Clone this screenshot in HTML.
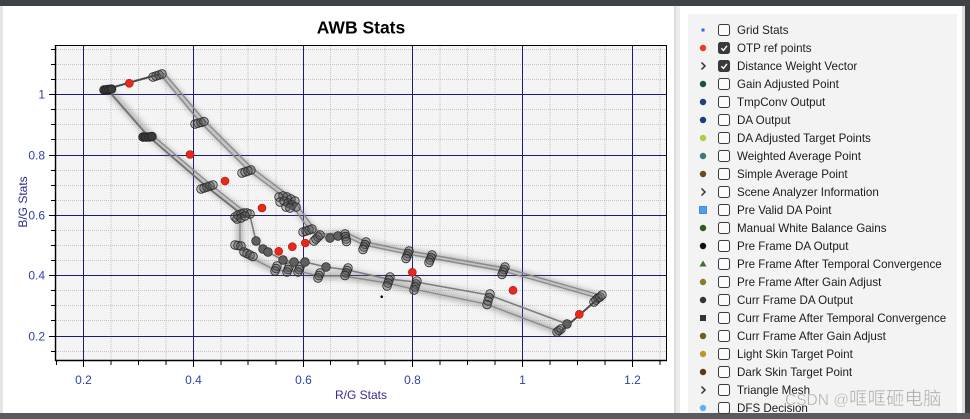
<!DOCTYPE html>
<html><head><meta charset="utf-8">
<style>
html,body{margin:0;padding:0;background:#fff;}
svg{display:block;}
.o{fill:rgba(90,90,90,.38);stroke:#2a2a2a;stroke-width:.8}
.f{fill:#606060;stroke:#303030;stroke-width:.8}
.d{fill:#3a3a3a;stroke:#1e1e1e;stroke-width:.8}
.lg{font-family:"Liberation Sans",sans-serif;font-size:11.6px;fill:#1c1c1c}
.tk{font-family:"Liberation Sans",sans-serif;font-size:12px;fill:#2f44a8}
</style></head>
<body>
<svg width="970" height="419" viewBox="0 0 970 419" xmlns="http://www.w3.org/2000/svg">
<defs>
<filter id="bl" filterUnits="userSpaceOnUse" x="0" y="0" width="970" height="419"><feGaussianBlur stdDeviation="2.6"/></filter>
<clipPath id="cp"><rect x="56" y="46" width="610" height="314"/></clipPath>
</defs>
<rect x="0" y="0" width="970" height="419" fill="#ffffff"/>
<rect x="0" y="6" width="3" height="408" fill="#e4e4e4"/>
<rect x="674" y="6" width="2" height="408" fill="#dcdcdc"/>
<rect x="676" y="6" width="4" height="408" fill="#ececec"/>
<rect x="688" y="14" width="269" height="400" fill="#f3f3f3"/>
<rect x="962" y="6" width="3" height="408" fill="#dedede"/>
<rect x="965" y="0" width="5" height="419" fill="#3c4043"/>
<rect x="0" y="0" width="970" height="6" fill="#3f4346"/>
<rect x="0" y="413" width="970" height="6" fill="#575b5f"/>

<text x="361" y="33.5" text-anchor="middle" font-family="Liberation Sans, sans-serif" font-weight="bold" font-size="17.5" fill="#000">AWB Stats</text>

<rect x="55.5" y="45.5" width="611" height="315" fill="#f4f4f4"/>
<g stroke="#c4c4c4" stroke-width="1" stroke-dasharray="1 1" fill="none">
<path d="M56,46V360M111,46V360M138.5,46V360M166,46V360M221,46V360M248,46V360M276,46V360M330.5,46V360M358,46V360M385,46V360M440,46V360M467.5,46V360M495,46V360M550,46V360M577.5,46V360M605,46V360M660,46V360"/>
<path d="M56,49.5H666M56,64.5H666M56,79.5H666M56,109.5H666M56,124.5H666M56,139.5H666M56,170.5H666M56,185.5H666M56,200.5H666M56,230.5H666M56,245.5H666M56,260.5H666M56,290.5H666M56,305.5H666M56,320.5H666M56,351.5H666"/>
</g>
<g stroke="#1b1b78" stroke-width="1" fill="none">
<path d="M83.5,46V360M193.5,46V360M303.5,46V360M412.5,46V360M522.5,46V360M632.5,46V360"/>
<path d="M56,94.5H666M56,155.5H666M56,215.5H666M56,275.5H666M56,336.5H666"/>
</g>
<rect x="55.5" y="45.5" width="611" height="315" fill="none" stroke="#000" stroke-width="1"/>
<path d="M55.5,45V361M55,360.5H667" stroke="#000" stroke-width="1.4"/>
<g stroke="#000" stroke-width="1">
<path d="M49,94.5H55M49,155.5H55M49,215.5H55M49,275.5H55M49,336.5H55"/>
<path d="M51,49.5H55M51,64.5H55M51,79.5H55M51,109.5H55M51,124.5H55M51,139.5H55M51,170.5H55M51,185.5H55M51,200.5H55M51,230.5H55M51,245.5H55M51,260.5H55M51,290.5H55M51,305.5H55M51,320.5H55M51,351.5H55"/>
<path d="M83.5,361V367M193.5,361V367M303.5,361V367M412.5,361V367M522.5,361V367M632.5,361V367"/>
<path d="M56.5,361V365M111,361V365M138.5,361V365M166,361V365M221,361V365M248,361V365M276,361V365M330.5,361V365M358,361V365M385,361V365M440,361V365M467.5,361V365M495,361V365M550,361V365M577.5,361V365M605,361V365M660,361V365"/>
</g>
<g class="tk" text-anchor="end">
<text x="45" y="98.5">1</text>
<text x="45" y="159.5">0.8</text>
<text x="45" y="219.5">0.6</text>
<text x="45" y="279.5">0.4</text>
<text x="45" y="340.5">0.2</text>
</g>
<g class="tk" text-anchor="middle">
<text x="83.5" y="384">0.2</text>
<text x="193.5" y="384">0.4</text>
<text x="303.5" y="384">0.6</text>
<text x="412.5" y="384">0.8</text>
<text x="522.5" y="384">1</text>
<text x="632.5" y="384">1.2</text>
</g>
<text x="361" y="399" text-anchor="middle" font-family="Liberation Sans, sans-serif" font-size="12" fill="#3a2c8e">R/G Stats</text>
<text transform="translate(27,202) rotate(-90)" text-anchor="middle" font-family="Liberation Sans, sans-serif" font-size="12" fill="#2c2c8c">B/G Stats</text>

<g clip-path="url(#cp)">
<g filter="url(#bl)" fill="none" stroke="#707070" stroke-opacity="0.45" stroke-width="7" stroke-linejoin="round" stroke-linecap="round">
<path d="M162,74 L202,121 L250,169 L290,199 L311,228 L320,236 L346,234 L365,243 L408,252 L431,256 L504,269 L599,297"/>
<path d="M108,89 L149,135 L208,186 L242,212"/>
<path d="M240,215 L240,245 L248,256 L275,270 L287,271 L298,271 L319,276 L343,276 L387,283 L413,289 L486,304 L560,332"/>
<path stroke-width="4" stroke-opacity="0.3" d="M250,216 L256,241 L263,249 L268,252 L283,260 L294,262 L305,262 L326,267 L348,270 L388,279 L416,282 L489,295 L567,324"/>
</g>
<g fill="none" stroke="#8a8a8a" stroke-width="1.4" stroke-linejoin="round">
<path d="M160,74 L200,122 L248,170 L288,200 L309,229 L318,237 L345,236 L364,245 L407,254 L430,258 L503,271 L598,298"/>
<path d="M164,73 L204,120 L252,168 L292,198 L313,227 L322,234 L347,233 L366,242 L409,251 L432,255 L505,268 L600,295"/>
<path stroke="#707070" stroke-width="1.8" d="M107,89 L148,136 L207,187 L240,213"/>
<path d="M151,134 L210,184 L244,211"/>
<path d="M240,215 L240,245 L248,256 L275,270 L287,271 L298,271 L319,276 L343,276 L387,283 L413,289 L486,304 L560,332"/>
<path stroke="#7c7c7c" stroke-width="1.6" d="M250,216 L256,241 L263,249 L268,252 L283,260 L294,262 L305,262 L326,267 L348,270 L388,279 L416,282 L489,295 L567,324"/>
</g>
<path d="M107,89 L160,74" stroke="#4c4c4c" stroke-width="2" fill="none"/>
<path d="M600,297 L560,332" stroke="#4c4c4c" stroke-width="2" fill="none"/>

<g>
<circle class="d" cx="104" cy="90" r="4.3"/><circle class="d" cx="106.5" cy="89.7" r="4.3"/><circle class="d" cx="109" cy="89.4" r="4.3"/><circle class="d" cx="111.5" cy="89.1" r="4.3"/>
<circle class="o" cx="153" cy="77" r="4.3"/><circle class="o" cx="156" cy="76" r="4.3"/><circle class="o" cx="159" cy="75" r="4.3"/><circle class="o" cx="162" cy="74" r="4.3"/>
<circle class="o" cx="195" cy="124" r="4.3"/><circle class="o" cx="198" cy="123.2" r="4.3"/><circle class="o" cx="201" cy="122.4" r="4.3"/><circle class="o" cx="204" cy="121.6" r="4.3"/>
<circle class="o" cx="242" cy="173" r="4.3"/><circle class="o" cx="245" cy="172" r="4.3"/><circle class="o" cx="248" cy="171" r="4.3"/><circle class="o" cx="251" cy="170" r="4.3"/>
<circle class="o" cx="279" cy="197" r="4.3"/><circle class="o" cx="283" cy="196" r="4.3"/><circle class="o" cx="287" cy="197" r="4.3"/><circle class="o" cx="291" cy="199" r="4.3"/><circle class="o" cx="295" cy="201" r="4.3"/><circle class="o" cx="280" cy="202" r="4.3"/><circle class="o" cx="284" cy="201" r="4.3"/><circle class="o" cx="288" cy="203" r="4.3"/><circle class="o" cx="292" cy="205" r="4.3"/><circle class="o" cx="296" cy="207" r="4.3"/><circle class="o" cx="286" cy="207" r="4.3"/><circle class="o" cx="290" cy="208" r="4.3"/>
<circle class="o" cx="303" cy="232" r="4.3"/><circle class="o" cx="306" cy="231" r="4.3"/><circle class="o" cx="309" cy="230" r="4.3"/><circle class="o" cx="312" cy="229" r="4.3"/>
<circle class="o" cx="314" cy="241" r="4.3"/><circle class="o" cx="316" cy="239" r="4.3"/><circle class="o" cx="318" cy="237" r="4.3"/><circle class="o" cx="320" cy="235" r="4.3"/>
<circle class="f" cx="330" cy="238" r="4.3"/><circle class="f" cx="338" cy="236" r="4.3"/>
<circle class="o" cx="345" cy="234" r="4.3"/><circle class="o" cx="345.5" cy="236.5" r="4.3"/><circle class="o" cx="346" cy="239" r="4.3"/><circle class="o" cx="346.5" cy="241.5" r="4.3"/>
<circle class="o" cx="366" cy="242" r="4.3"/><circle class="o" cx="365" cy="244.5" r="4.3"/><circle class="o" cx="364" cy="247" r="4.3"/><circle class="o" cx="363" cy="249.5" r="4.3"/>
<circle class="o" cx="409" cy="251" r="4.3"/><circle class="o" cx="408" cy="253.5" r="4.3"/><circle class="o" cx="407" cy="256" r="4.3"/><circle class="o" cx="406" cy="258.5" r="4.3"/>
<circle class="o" cx="432" cy="255" r="4.3"/><circle class="o" cx="431" cy="257.5" r="4.3"/><circle class="o" cx="430" cy="260" r="4.3"/><circle class="o" cx="429" cy="262.5" r="4.3"/>
<circle class="o" cx="505" cy="267" r="4.3"/><circle class="o" cx="504" cy="269.5" r="4.3"/><circle class="o" cx="503" cy="272" r="4.3"/><circle class="o" cx="502" cy="274.5" r="4.3"/>
<circle class="o" cx="594" cy="302" r="4.3"/><circle class="o" cx="596" cy="300" r="4.3"/><circle class="o" cx="598" cy="298" r="4.3"/><circle class="o" cx="600" cy="297" r="4.3"/><circle class="o" cx="602" cy="295" r="4.3"/>
<circle class="d" cx="143" cy="137" r="4.3"/><circle class="d" cx="146" cy="137" r="4.3"/><circle class="d" cx="149" cy="137" r="4.3"/><circle class="d" cx="152" cy="136.5" r="4.3"/>
<circle class="o" cx="201" cy="189" r="4.3"/><circle class="o" cx="204" cy="188" r="4.3"/><circle class="o" cx="207" cy="187" r="4.3"/><circle class="o" cx="210" cy="186" r="4.3"/><circle class="o" cx="213" cy="185" r="4.3"/>
<circle class="o" cx="235" cy="217" r="4.3"/><circle class="o" cx="238" cy="215" r="4.3"/><circle class="o" cx="241" cy="214" r="4.3"/><circle class="o" cx="244" cy="213" r="4.3"/><circle class="o" cx="247" cy="213" r="4.3"/><circle class="o" cx="250" cy="214" r="4.3"/><circle class="o" cx="237" cy="219" r="4.3"/><circle class="o" cx="241" cy="218" r="4.3"/><circle class="o" cx="245" cy="216" r="4.3"/>
<circle class="o" cx="235" cy="245" r="4.3"/><circle class="o" cx="238" cy="245.5" r="4.3"/><circle class="o" cx="241" cy="246" r="4.3"/>
<circle class="o" cx="244" cy="252" r="4.3"/><circle class="o" cx="247" cy="253.5" r="4.3"/><circle class="o" cx="250" cy="255" r="4.3"/><circle class="o" cx="253" cy="256.5" r="4.3"/>
<circle class="o" cx="277" cy="266" r="4.3"/><circle class="o" cx="276" cy="268.5" r="4.3"/><circle class="o" cx="275" cy="271" r="4.3"/>
<circle class="o" cx="289" cy="267" r="4.3"/><circle class="o" cx="288" cy="269.5" r="4.3"/><circle class="o" cx="287" cy="272" r="4.3"/>
<circle class="o" cx="300" cy="267" r="4.3"/><circle class="o" cx="299" cy="269.5" r="4.3"/><circle class="o" cx="298" cy="272" r="4.3"/>
<circle class="o" cx="320" cy="273" r="4.3"/><circle class="o" cx="319" cy="275.5" r="4.3"/><circle class="o" cx="318" cy="278" r="4.3"/>
<circle class="o" cx="348" cy="268" r="4.3"/><circle class="o" cx="347" cy="270.5" r="4.3"/><circle class="o" cx="346" cy="273" r="4.3"/><circle class="o" cx="345" cy="275.5" r="4.3"/>
<circle class="o" cx="390" cy="277" r="4.3"/><circle class="o" cx="389" cy="280" r="4.3"/><circle class="o" cx="388" cy="283" r="4.3"/><circle class="o" cx="387" cy="286" r="4.3"/>
<circle class="o" cx="417" cy="281" r="4.3"/><circle class="o" cx="416" cy="284" r="4.3"/><circle class="o" cx="415" cy="287" r="4.3"/><circle class="o" cx="414" cy="290" r="4.3"/>
<circle class="o" cx="490" cy="294" r="4.3"/><circle class="o" cx="489" cy="297.5" r="4.3"/><circle class="o" cx="488" cy="301" r="4.3"/><circle class="o" cx="487" cy="304.5" r="4.3"/>
<circle class="f" cx="567" cy="324" r="4.3"/>
<circle class="o" cx="557" cy="332" r="4.3"/><circle class="o" cx="559" cy="330.5" r="4.3"/><circle class="o" cx="561" cy="329" r="4.3"/>
<circle class="f" cx="256" cy="241" r="4.3"/><circle class="f" cx="263" cy="249" r="4.3"/><circle class="f" cx="268" cy="252" r="4.3"/><circle class="f" cx="283" cy="260" r="4.3"/><circle class="f" cx="294" cy="262" r="4.3"/><circle class="f" cx="305" cy="262" r="4.3"/><circle class="f" cx="326" cy="267" r="4.3"/>
</g>
<g fill="#e8281c" stroke="#a8160e" stroke-width="0.6">
<circle cx="129.3" cy="83.3" r="4"/><circle cx="190" cy="154.5" r="4"/><circle cx="225" cy="181" r="4"/><circle cx="262" cy="208" r="4"/><circle cx="278.7" cy="251.3" r="4"/><circle cx="292.3" cy="246.7" r="4"/><circle cx="305.3" cy="243" r="4"/><circle cx="412.3" cy="272.3" r="4"/><circle cx="513" cy="290.3" r="4"/><circle cx="579.3" cy="314.3" r="4"/>
</g>
<circle cx="381.7" cy="296.7" r="1.3" fill="#000"/>
</g>

<g>
<rect x="701.5" y="28.5" width="3" height="3" fill="#3d5ef0"/>
<circle cx="703" cy="48" r="3.2" fill="#e83a2a"/>
<path d="M701.5,62.5 L705,66 L701.5,69.5" stroke="#333" stroke-width="1.5" fill="none"/>
<circle cx="703" cy="84" r="3.2" fill="#1d4d47"/>
<circle cx="703" cy="102" r="3.2" fill="#1d3f7a"/>
<circle cx="703" cy="120" r="3.2" fill="#1a3d80"/>
<circle cx="703" cy="138" r="3.2" fill="#a9cc4a"/>
<circle cx="703" cy="156" r="3.2" fill="#3d7878"/>
<circle cx="703" cy="174" r="3.2" fill="#6b4a1f"/>
<path d="M701.5,188.5 L705,192 L701.5,195.5" stroke="#333" stroke-width="1.5" fill="none"/>
<rect x="699.5" y="206.5" width="7" height="7" fill="#4aa0ee" stroke="#3878c0" stroke-width="0.8"/>
<circle cx="703" cy="228" r="3.2" fill="#2f5a1e"/>
<circle cx="703" cy="246" r="3.2" fill="#111"/>
<path d="M703,260.5 L706.5,266.5 L699.5,266.5 Z" fill="#3f6e2f"/>
<circle cx="703" cy="282" r="3.2" fill="#8a7a2e"/>
<circle cx="703" cy="300" r="3.2" fill="#333"/>
<rect x="700" y="315" width="6" height="6" fill="#333"/>
<circle cx="703" cy="336" r="3.2" fill="#6e5e20"/>
<circle cx="703" cy="354" r="3.2" fill="#b59c2a"/>
<circle cx="703" cy="372" r="3.2" fill="#5b3716"/>
<path d="M701.5,386.5 L705,390 L701.5,393.5" stroke="#333" stroke-width="1.5" fill="none"/>
<circle cx="703" cy="408" r="3.2" fill="#5ab4ee"/>
</g>
<g fill="#fbfbfb" stroke="#3a3a3a" stroke-width="1">
<rect x="718.5" y="24.5" width="11" height="11" rx="2"/>
<rect x="718.5" y="78.5" width="11" height="11" rx="2"/>
<rect x="718.5" y="96.5" width="11" height="11" rx="2"/>
<rect x="718.5" y="114.5" width="11" height="11" rx="2"/>
<rect x="718.5" y="132.5" width="11" height="11" rx="2"/>
<rect x="718.5" y="150.5" width="11" height="11" rx="2"/>
<rect x="718.5" y="168.5" width="11" height="11" rx="2"/>
<rect x="718.5" y="186.5" width="11" height="11" rx="2"/>
<rect x="718.5" y="204.5" width="11" height="11" rx="2"/>
<rect x="718.5" y="222.5" width="11" height="11" rx="2"/>
<rect x="718.5" y="240.5" width="11" height="11" rx="2"/>
<rect x="718.5" y="258.5" width="11" height="11" rx="2"/>
<rect x="718.5" y="276.5" width="11" height="11" rx="2"/>
<rect x="718.5" y="294.5" width="11" height="11" rx="2"/>
<rect x="718.5" y="312.5" width="11" height="11" rx="2"/>
<rect x="718.5" y="330.5" width="11" height="11" rx="2"/>
<rect x="718.5" y="348.5" width="11" height="11" rx="2"/>
<rect x="718.5" y="366.5" width="11" height="11" rx="2"/>
<rect x="718.5" y="384.5" width="11" height="11" rx="2"/>
<rect x="718.5" y="402.5" width="11" height="11" rx="2"/>
</g>
<g>
<rect x="718.5" y="42.5" width="11" height="11" rx="2" fill="#3a3a3a" stroke="#3a3a3a"/>
<path d="M721.3,48.2 L723.5,50.4 L727,45.8" stroke="#fff" stroke-width="1.4" fill="none"/>
<rect x="718.5" y="60.5" width="11" height="11" rx="2" fill="#3a3a3a" stroke="#3a3a3a"/>
<path d="M721.3,66.2 L723.5,68.4 L727,63.8" stroke="#fff" stroke-width="1.4" fill="none"/>
</g>
<g class="lg">
<text x="737" y="34">Grid Stats</text>
<text x="737" y="52">OTP ref points</text>
<text x="737" y="70">Distance Weight Vector</text>
<text x="737" y="88">Gain Adjusted Point</text>
<text x="737" y="106">TmpConv Output</text>
<text x="737" y="124">DA Output</text>
<text x="737" y="142">DA Adjusted Target Points</text>
<text x="737" y="160">Weighted Average Point</text>
<text x="737" y="178">Simple Average Point</text>
<text x="737" y="196">Scene Analyzer Information</text>
<text x="737" y="214">Pre Valid DA Point</text>
<text x="737" y="232">Manual White Balance Gains</text>
<text x="737" y="250">Pre Frame DA Output</text>
<text x="737" y="268">Pre Frame After Temporal Convergence</text>
<text x="737" y="286">Pre Frame After Gain Adjust</text>
<text x="737" y="304">Curr Frame DA Output</text>
<text x="737" y="322">Curr Frame After Temporal Convergence</text>
<text x="737" y="340">Curr Frame After Gain Adjust</text>
<text x="737" y="358">Light Skin Target Point</text>
<text x="737" y="376">Dark Skin Target Point</text>
<text x="737" y="394">Triangle Mesh</text>
<text x="737" y="412">DFS Decision</text>
</g>
<text x="785" y="405" fill="#9a9a9a" fill-opacity="0.8" stroke="#ffffff" stroke-opacity="0.5" stroke-width="0.6" font-family="Liberation Sans, 'Noto Sans CJK SC', sans-serif" font-size="15.5">CSDN @<tspan font-size="18.5" font-family="'Noto Sans CJK SC', 'WenQuanYi Zen Hei', sans-serif">哐哐砸电脑</tspan></text>
</svg>
</body></html>
